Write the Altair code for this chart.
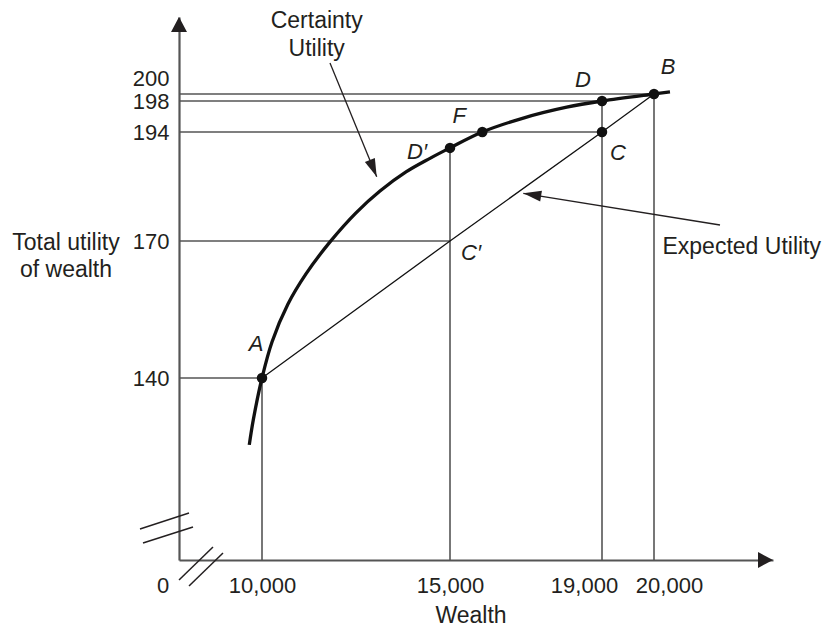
import altair as alt
import pandas as pd

# ---------------- data ----------------
# scale break values (diagram is not drawn to scale, so the scales are piecewise)
X_DOMAIN = [7800, 10000, 15000, 19000, 20000, 23000]
Y_DOMAIN = [100, 140, 170, 194, 198, 200, 215]

x_ticks = [10000, 15000, 19000, 20000]
y_ticks = [140, 170, 194, 198, 200]

# certainty utility curve (wealth, total utility)
curve_wealth = [9663, 9769, 10000, 10266, 10691, 11170, 11809, 12500, 13138,
                13830, 14468, 15000, 15850, 16929, 18071, 19000, 20000, 20403]
curve_utility = [125.3, 130.8, 140, 147.9, 156.2, 162.8, 169.8, 176.2, 181.0,
                 185.2, 188.2, 190.5, 194, 195.8, 197.2, 198, 200, 200.4]

# expected utility line A - C' - C - B
eu_wealth = [10000, 15000, 19000, 20000]
eu_utility = [140, 170, 194, 200]

# highlighted points
pt_names = ["A", "D′", "F", "D", "C", "B"]
pt_wealth = [10000, 15000, 15850, 19000, 19000, 20000]
pt_utility = [140, 190.5, 194, 198, 194, 200]

# point labels
lbl_names = ["A", "B", "C", "C′", "D", "D′", "F"]
lbl_wealth = [10000, 20000, 19000, 15000, 19000, 15000, 15850]
lbl_utility = [140, 200, 194, 170, 198, 190.5, 194]

# guide lines
vguide_wealth = [10000, 15000, 19000, 20000]
vguide_top = [140, 190.5, 198, 200]
hguide_utility = [140, 170, 194, 198, 200]
hguide_right = [10000, 15000, 19000, 19000, 20000]

AXIS_X0 = X_DOMAIN[0]
AXIS_Y0 = Y_DOMAIN[0]

# ---------------- styles ----------------
FONT = "Liberation Sans"
INK = "#231f20"
GUIDE = "#555555"
X_RANGE = [0, 83, 271, 423, 475, 594]
Y_RANGE = [550, 368, 231, 122, 91, 84, 7]
LABEL_OFFSETS = {"A": (-6, -34), "B": (14, -27), "C": (16, 21), "C′": (21, 12),
                 "D": (-19, -21), "D′": (-33, 4), "F": (-23, -16)}
ARROW_HEAD = "M0,0 L-0.6,2 L0.6,2 Z"
AXIS_HEAD = "M0,0 L-1,1.875 L1,1.875 Z"

xscale = alt.Scale(domain=X_DOMAIN, range=X_RANGE, nice=False, zero=False)
yscale = alt.Scale(domain=Y_DOMAIN, range=Y_RANGE, nice=False, zero=False)

xaxis = alt.Axis(values=x_ticks, labelExpr="format(datum.value, ',')", ticks=False,
                 tickSize=0, grid=False, domainColor=GUIDE, domainWidth=2.2,
                 labelFont=FONT, labelFontSize=22, labelColor=INK, labelPadding=15,
                 labelOverlap=False, labelFlush=False, labelBound=False,
                 labelOffset={"condition": [{"test": "datum.value == 19000", "value": -18},
                                            {"test": "datum.value == 20000", "value": 15}],
                              "value": 0})
yaxis = alt.Axis(values=y_ticks, labelExpr="format(datum.value, 'd')", ticks=False,
                 tickSize=0, grid=False, domainColor=GUIDE, domainWidth=2.2,
                 labelFont=FONT, labelFontSize=22, labelColor=INK, labelPadding=10,
                 labelOverlap=False, labelFlush=False, labelBound=False,
                 labelOffset={"condition": {"test": "datum.value == 200", "value": -16},
                              "value": 0})


def X(field):
    return alt.X(field, type="quantitative", scale=xscale, axis=xaxis, title=None)


def Y(field):
    return alt.Y(field, type="quantitative", scale=yscale, axis=yaxis, title=None)


curve_df = pd.DataFrame({"w": curve_wealth, "u": curve_utility})
eu_df = pd.DataFrame({"w": eu_wealth, "u": eu_utility})
pt_df = pd.DataFrame({"name": pt_names, "w": pt_wealth, "u": pt_utility})
lbl_df = pd.DataFrame({"name": lbl_names, "w": lbl_wealth, "u": lbl_utility})
vg_df = pd.DataFrame({"w": vguide_wealth, "top": vguide_top, "base": AXIS_Y0})
hg_df = pd.DataFrame({"u": hguide_utility, "left": AXIS_X0, "right": hguide_right})

layers = []

# guide lines
layers.append(alt.Chart(vg_df).mark_rule(color=GUIDE, strokeWidth=1.6).encode(
    x=X("w"), y=Y("top"), y2="base"))
layers.append(alt.Chart(hg_df).mark_rule(color=GUIDE, strokeWidth=1.6).encode(
    y=Y("u"), x=X("left"), x2="right"))

# expected utility line
layers.append(alt.Chart(eu_df).mark_line(color="#111111", strokeWidth=1.3).encode(
    x=X("w"), y=Y("u")))

# certainty utility curve
layers.append(alt.Chart(curve_df).mark_line(color="#111111", strokeWidth=3.3,
                                            interpolate="catmull-rom").encode(
    x=X("w"), y=Y("u")))

# points
layers.append(alt.Chart(pt_df).mark_circle(size=110, color="#111111", opacity=1).encode(
    x=X("w"), y=Y("u")))

# point labels
for name, (dx, dy) in LABEL_OFFSETS.items():
    layers.append(alt.Chart(lbl_df).transform_filter(alt.datum.name == name).mark_text(
        font=FONT, fontSize=22, fontStyle="italic", color=INK, dx=dx, dy=dy,
        align="center", baseline="middle").encode(x=X("w"), y=Y("u"), text="name:N"))

blank = alt.Data(values=[{}])


def rule(x1, y1, x2, y2, width, color):
    return alt.Chart(blank).mark_rule(color=color, strokeWidth=width).encode(
        x=alt.value(x1), y=alt.value(y1), x2=alt.value(x2), y2=alt.value(y2))


def head(x, y, angle, shape, size):
    return alt.Chart(blank).mark_point(shape=shape, filled=True, size=size, angle=angle,
                                       color=INK, opacity=1, strokeWidth=0).encode(
        x=alt.value(x), y=alt.value(y))


def text(x, y, s, size=23, align="center", style="normal"):
    return alt.Chart(blank).mark_text(font=FONT, fontSize=size, color=INK, align=align,
                                      baseline="alphabetic", fontStyle=style).encode(
        x=alt.value(x), y=alt.value(y), text=alt.value(s))


# axis arrow heads
layers.append(head(0, 7, 0, AXIS_HEAD, 256))
layers.append(head(594, 550, 90, AXIS_HEAD, 256))

# axis breaks
layers.append(rule(-39, 519, 10, 503, 1.5, INK))
layers.append(rule(-36, 533, 14, 517, 1.5, INK))
layers.append(rule(0, 570, 34, 537, 1.5, INK))
layers.append(rule(10, 576, 44, 543, 1.5, INK))

# annotation arrows
layers.append(rule(151, 53, 197.7, 166.7, 1.3, INK))
layers.append(head(197.7, 166.7, 157.7, ARROW_HEAD, 324))
layers.append(rule(541, 215, 344.3, 183.3, 1.3, INK))
layers.append(head(344.3, 183.3, 279.2, ARROW_HEAD, 324))

# texts
layers.append(text(137.7, 18, "Certainty"))
layers.append(text(137.7, 46, "Utility"))
layers.append(text(642, 244, "Expected Utility", align="right"))
layers.append(text(-113, 240, "Total utility"))
layers.append(text(-113, 267, "of wealth"))
layers.append(text(292, 613, "Wealth"))
layers.append(text(-16, 583, "0", size=22))

chart = alt.layer(*layers).properties(
    width=611, height=550,
    padding={"left": 171, "top": 2, "right": 32, "bottom": 67},
    autosize=alt.AutoSizeParams(type="none"),
    background="white",
).configure_view(stroke=None)

chart.save("out.html", embed_options={"renderer": "svg", "actions": False})
